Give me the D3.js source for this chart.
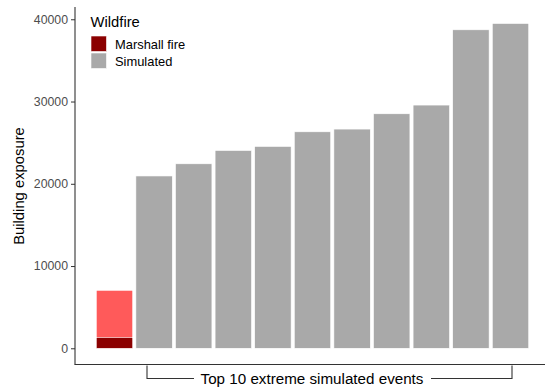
<!DOCTYPE html>
<html>
<head>
<meta charset="utf-8">
<script src="https://cdn.jsdelivr.net/npm/d3@7"></script>
<style>
  html, body { margin: 0; padding: 0; background: #fff; }
  svg { display: block; font-family: "Liberation Sans", Arial, sans-serif; }
</style>
</head>
<body>
<svg id="chart" width="545" height="387"></svg>
<script>
// ---- data ----
const categories = ["Marshall", "S1", "S2", "S3", "S4", "S5", "S6", "S7", "S8", "S9", "S10"];
const simulatedValues = [null, 20950, 22430, 24050, 24540, 26320, 26650, 28510, 29570, 38720, 39490];
const marshallTotal = [7050];      // light red bar
const marshallDestroyed = [1300];  // dark red bar
const yTicks = [0, 10000, 20000, 30000, 40000];
const legendLabels = ["Marshall fire", "Simulated"];
const legendTitle = "Wildfire";
const yTitle = "Building exposure";
const bracketLabel = "Top 10 extreme simulated events";

// ---- layout ----
const svg = d3.select("#chart");
const panel = { left: 75, right: 545, top: 8, bottom: 364.5 };

const x = d3.scaleBand()
  .domain(categories)
  .range([94.7, 530.3])
  .paddingInner(0.08)
  .paddingOuter(0.04);

const y = d3.scaleLinear()
  .domain([-1970, 41370])
  .range([panel.bottom, panel.top]);

const colSim = "#A9A9A9", colDark = "#8B0000", colLight = "#FF5A5A";

// bars
const g = svg.append("g");
g.selectAll("rect.sim")
  .data(categories.map((c, i) => ({ c, v: simulatedValues[i] })).filter(d => d.v != null))
  .join("rect")
  .attr("class", "sim")
  .attr("x", d => x(d.c))
  .attr("width", x.bandwidth())
  .attr("y", d => y(d.v))
  .attr("height", d => y(0) - y(d.v))
  .attr("fill", colSim)
  .attr("stroke", "#fff")
  .attr("stroke-width", 0.6);

g.append("rect")
  .attr("x", x(categories[0]))
  .attr("width", x.bandwidth())
  .attr("y", y(marshallTotal[0]))
  .attr("height", y(0) - y(marshallTotal[0]))
  .attr("fill", colLight)
  .attr("stroke", "#fff")
  .attr("stroke-width", 0.6);

g.append("rect")
  .attr("x", x(categories[0]))
  .attr("width", x.bandwidth())
  .attr("y", y(marshallDestroyed[0]))
  .attr("height", y(0) - y(marshallDestroyed[0]))
  .attr("fill", colDark)
  .attr("stroke", "#fff")
  .attr("stroke-width", 0.6);

// y axis
const yAxis = d3.axisLeft(y).tickValues(yTicks).tickSize(4).tickPadding(3).tickFormat(d3.format("d"));
const ya = svg.append("g").attr("transform", `translate(${panel.left},0)`).call(yAxis);
ya.select(".domain").remove();
ya.selectAll(".tick line").attr("stroke", "#333").attr("stroke-width", 1);
ya.selectAll(".tick text").attr("fill", "#4d4d4d").style("font-size", "12.3px").attr("font-family", "Liberation Sans, Arial, sans-serif");

// axis lines (theme_classic)
svg.append("line").attr("x1", panel.left).attr("x2", panel.left)
  .attr("y1", panel.top - 1).attr("y2", panel.bottom).attr("stroke", "#333").attr("stroke-width", 1.1);
svg.append("line").attr("x1", panel.left - 0.5).attr("x2", panel.right)
  .attr("y1", panel.bottom).attr("y2", panel.bottom).attr("stroke", "#333").attr("stroke-width", 1.1);

// y title
svg.append("text")
  .attr("transform", `translate(23.5,186) rotate(-90)`)
  .attr("text-anchor", "middle")
  .style("font-size", "14.8px")
  .attr("fill", "#000")
  .text(yTitle);

// bracket
const bx1 = 147, bx2 = 512, by1 = 365.5, by2 = 378.5;
const bLabelX = 312;
svg.append("path")
  .attr("d", `M${bx1},${by1} V${by2} H194 M431,${by2} H${bx2} V${by1}`)
  .attr("fill", "none").attr("stroke", "#333").attr("stroke-width", 1.1);
svg.append("text")
  .attr("x", bLabelX).attr("y", 383.5)
  .attr("text-anchor", "middle")
  .style("font-size", "15.2px")
  .attr("fill", "#000")
  .text(bracketLabel);

// legend
const lg = svg.append("g");
lg.append("text").attr("x", 90.5).attr("y", 26.5).style("font-size", "14.8px").attr("fill", "#000").text(legendTitle);
const legendColors = [colDark, colSim];
legendLabels.forEach((lab, i) => {
  const yy = 36 + i * 17;
  lg.append("rect").attr("x", 91).attr("y", yy).attr("width", 15.5).attr("height", 15.5)
    .attr("fill", legendColors[i]).attr("stroke", "#fff").attr("stroke-width", 0.6);
  lg.append("text").attr("x", 115).attr("y", yy + 12.5).style("font-size", "12.9px").attr("fill", "#000").text(lab);
});
</script>
</body>
</html>
